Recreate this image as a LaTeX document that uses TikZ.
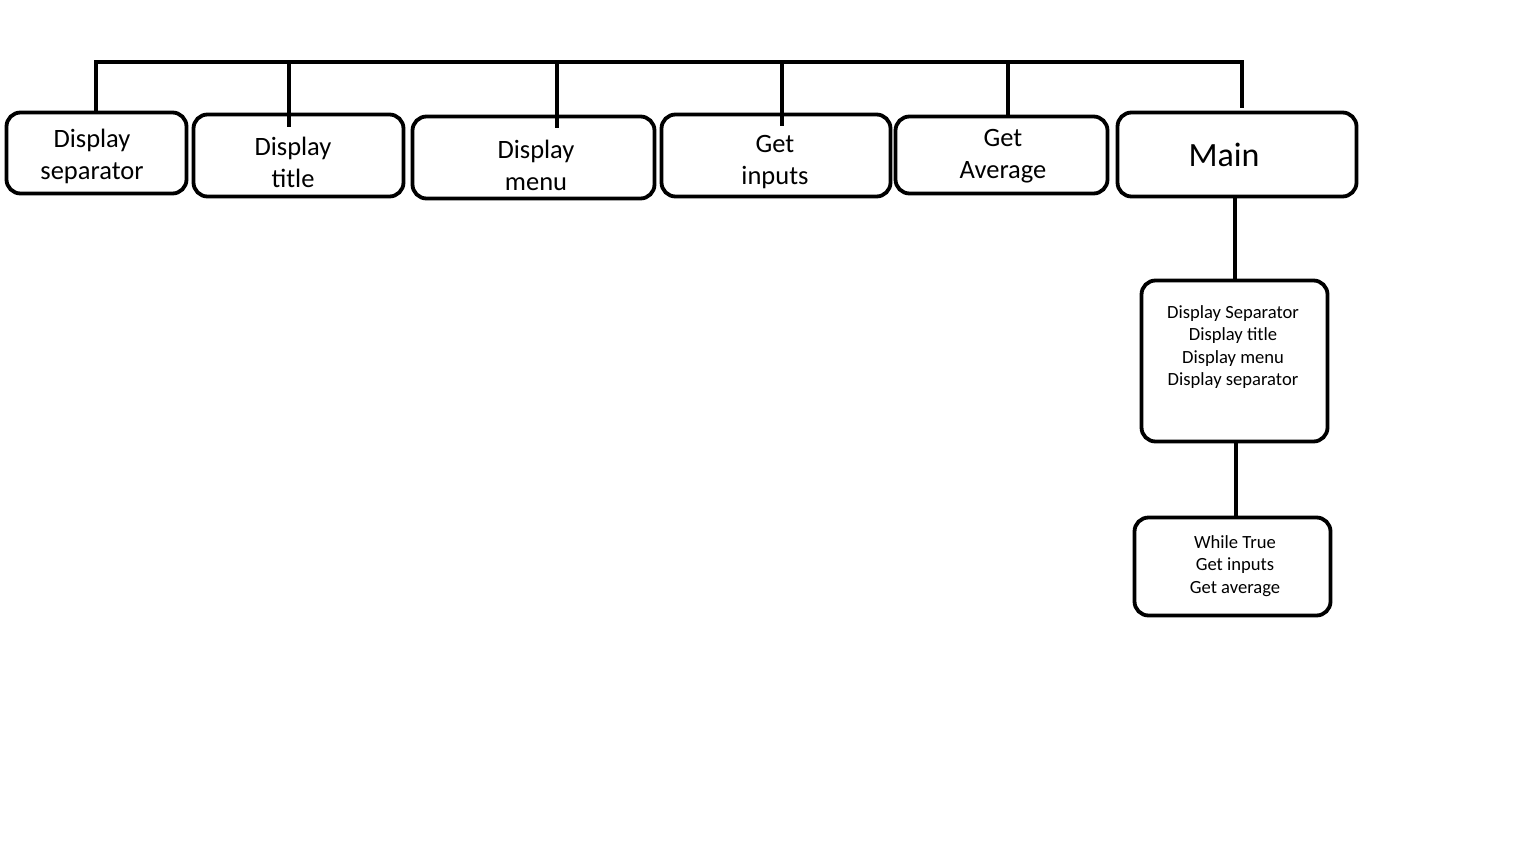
\documentclass[tikz,border=0pt]{standalone}
\usepackage{fontspec}
\setmainfont{Carlito}
\begin{document}
\begin{tikzpicture}[x=1pt,y=-1pt,
  box/.style={draw=black, line width=3.8pt, rounded corners=14pt, fill=white, inner sep=0pt},
  wire/.style={draw=black, line width=4pt},
  big/.style={font=\fontsize{26.5}{32}\selectfont, align=center, inner sep=0pt},
  small/.style={font=\fontsize{18.6}{22.6}\selectfont, align=center, inner sep=0pt}]
\useasboundingbox[fill=white] (0,0) rectangle (1536,862);

% function boxes on the top row
\node[box, minimum width=180pt, minimum height=81pt] (sep)   at (96.5,153) {};
\node[box, minimum width=210pt, minimum height=82pt] (title) at (298.5,155.5) {};
\node[box, minimum width=242pt, minimum height=82pt] (menu)  at (533.5,157.5) {};
\node[box, minimum width=229pt, minimum height=82pt] (inp)   at (776,155.5) {};
\node[box, minimum width=212pt, minimum height=77pt] (avg)   at (1001.5,155) {};
\node[box, minimum width=239pt, minimum height=84pt] (main)  at (1237,154.5) {};

% body of main
\node[box, minimum width=186pt, minimum height=161pt] (body) at (1234.5,361) {};
\node[box, minimum width=196pt, minimum height=98pt]  (loop) at (1232.5,566.5) {};

% labels
\node[big] at (92,156)   {Display\\separator};
\node[big] at (293,162)  {Display\\title};
\node[big] at (536,165)  {Display\\menu};
\node[big] at (775,162)  {Get\\inputs};
\node[big] at (1003,156) {Get\\Average};
\node[font=\fontsize{34}{40}\selectfont, inner sep=0pt, anchor=base] at (1224,166) {Main};
\node[small] at (1233,347) {Display Separator\\Display title\\Display menu\\Display separator};
\node[small] at (1235,566) {While True\\Get inputs\\Get average};

% call bus across the top
\coordinate (j1) at (96,62);
\coordinate (j2) at (289,62);
\coordinate (j3) at (557,62);
\coordinate (j4) at (782,62);
\coordinate (j5) at (1008,62);
\coordinate (j6) at (1242,62);
\draw[wire] ([xshift=-2pt]j1) -- ([xshift=2pt]j6);
\draw[wire] (j1) -- ([yshift=-1pt]j1 |- sep.north);
\draw[wire] (j2) -- ([yshift=-14pt]j2 |- title.north);
\draw[wire] (j3) -- ([yshift=-13pt]j3 |- menu.north);
\draw[wire] (j4) -- ([yshift=-13pt]j4 |- inp.north);
\draw[wire] (j5) -- ([yshift=-2pt]j5 |- avg.north);
\draw[wire] (j6) -- ([yshift=3pt]j6 |- main.north);

% main flow downwards
\draw[wire] (body.north |- main.south) -- (body.north);
\draw[wire] ([xshift=1.5pt]body.south) -- ([xshift=1.5pt]body.south |- loop.north);
\end{tikzpicture}
\end{document}
